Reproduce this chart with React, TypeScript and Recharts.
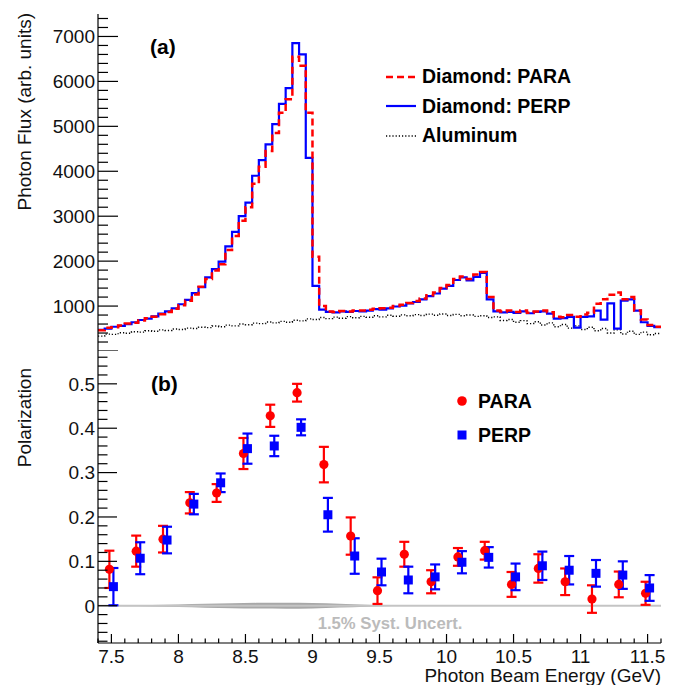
import React from 'react';
import { ComposedChart, Line, Scatter, Area, ErrorBar, XAxis, YAxis, ReferenceLine, Legend, Customized } from 'recharts';

const FONT = '"Liberation Sans", Arial, Helvetica, sans-serif';
const RED = '#ff0000';
const BLUE = '#0000ff';

// top panel: photon flux histograms, 0.05 GeV bins, lower edges 7.40 ... 11.55
const binStart = 7.4;
const binWidth = 0.05;
const fluxPerp = [
  470, 500, 540, 560, 600, 640, 690, 720, 770, 830, 880, 950,
  1040, 1140, 1290, 1420, 1640, 1820, 1990, 2330,
  2650, 3000, 3300, 3900, 4250, 4600, 5050, 5500, 5850, 6850, 6600, 4300,
  1450, 920, 870, 860, 880, 870, 890, 880,
  900, 930, 920, 950, 990, 1010, 1060, 1090, 1150, 1220, 1280, 1390,
  1450, 1580, 1640, 1570, 1650, 1740, 1150, 880,
  860, 870, 850, 880, 840, 870, 880, 830, 720, 730, 760, 520,
  760, 770, 900, 700, 1060, 500, 1120, 1150, 900, 640, 560, 530,
];
const fluxPara = [
  460, 520, 530, 570, 610, 630, 680, 730, 760, 820, 870, 940,
  1020, 1120, 1260, 1430, 1600, 1790, 1930, 2250,
  2560, 2900, 3200, 3720, 4100, 4450, 4850, 5300, 5600, 6550, 6350, 5300,
  2100, 1000, 880, 870, 890, 880, 900, 900,
  920, 940, 950, 960, 1000, 1030, 1070, 1110, 1170, 1240, 1300, 1400,
  1470, 1600, 1660, 1600, 1700, 1760, 1200, 900,
  880, 900, 870, 900, 850, 880, 900, 860, 760, 750, 800, 760,
  810, 850, 1050, 1150, 1250, 1300, 1150, 1200, 900, 700, 580, 540,
];
const fluxAl = [
  330, 375, 370, 405, 395, 430, 420, 450, 440, 470, 455, 490,
  480, 510, 500, 530, 520, 555, 540, 575,
  560, 600, 585, 620, 610, 645, 625, 660, 640, 685, 670, 715,
  700, 745, 720, 755, 730, 765, 740, 770,
  750, 785, 760, 795, 775, 805, 785, 810, 790, 820, 795, 825,
  790, 815, 785, 800, 770, 785, 745, 760,
  680, 700, 640, 675, 610, 650, 580, 625, 540, 590, 510, 560,
  480, 530, 450, 500, 400, 470, 380, 440, 370, 420, 360, 390,
];

// bottom panel: polarization per 0.2 GeV point
const energies = [7.5, 7.7, 7.9, 8.1, 8.3, 8.5, 8.7, 8.9, 9.1, 9.3, 9.5, 9.7, 9.9, 10.1, 10.3, 10.5, 10.7, 10.9, 11.1, 11.3, 11.5];
const paraPol = [0.082, 0.123, 0.150, 0.232, 0.254, 0.343, 0.428, 0.480, 0.318, 0.157, 0.034, 0.116, 0.054, 0.110, 0.124, 0.048, 0.084, 0.054, 0.015, 0.048, 0.028];
const paraErr = [0.042, 0.035, 0.030, 0.024, 0.020, 0.035, 0.025, 0.020, 0.040, 0.042, 0.030, 0.028, 0.026, 0.020, 0.020, 0.028, 0.032, 0.030, 0.031, 0.029, 0.026];
const perpPol = [0.043, 0.107, 0.148, 0.229, 0.277, 0.354, 0.360, 0.402, 0.205, 0.112, 0.076, 0.058, 0.065, 0.098, 0.109, 0.065, 0.090, 0.080, 0.073, 0.069, 0.040];
const perpErr = [0.042, 0.036, 0.030, 0.023, 0.021, 0.034, 0.023, 0.018, 0.038, 0.040, 0.030, 0.030, 0.028, 0.025, 0.023, 0.030, 0.032, 0.032, 0.030, 0.031, 0.029];

// systematic band (half width) around zero
const bandE = [7.4, 7.6, 7.8, 8.0, 8.2, 8.4, 8.6, 8.8, 9.0, 9.2, 9.4, 9.6, 11.6];
const bandHalf = [0.0008, 0.0012, 0.0018, 0.003, 0.0044, 0.0056, 0.0065, 0.0068, 0.006, 0.0042, 0.0022, 0.0009, 0.0008];

// tick labels
const fluxLabels = [1000, 2000, 3000, 4000, 5000, 6000, 7000];
const polLabels = [0, 0.1, 0.2, 0.3, 0.4, 0.5];
const energyLabels = [7.5, 8, 8.5, 9, 9.5, 10, 10.5, 11, 11.5];

const fluxLegend = ['Diamond: PARA', 'Diamond: PERP', 'Aluminum'];
const polLegend = ['PARA', 'PERP'];

const steps = (from: number, to: number, step: number) => {
  const n = Math.round((to - from) / step);
  return Array.from({ length: n + 1 }, (_, k) => Math.round((from + k * step) * 1e4) / 1e4);
};
const energyTicks = steps(7.4, 11.6, 0.1);
const fluxTicks = steps(0, 7400, 200);
const polTicks = steps(-0.08, 0.56, 0.02);

const histData = fluxPerp.map((v, i) => ({
  x: Math.round((binStart + i * binWidth) * 100) / 100,
  perp: v,
  para: fluxPara[i],
  al: fluxAl[i],
}));
histData.push({ ...histData[histData.length - 1], x: 11.6 });

const paraData = energies.map((e, i) => ({ x: e - 0.015, y: paraPol[i], err: paraErr[i] }));
const perpData = energies.map((e, i) => ({ x: e + 0.015, y: perpPol[i], err: perpErr[i] }));
const bandData = bandE.map((e, i) => ({ x: e, band: [-bandHalf[i], bandHalf[i]] }));

type Side = 'left' | 'right' | 'top' | 'bottom';
const near = (a: number, b: number) => Math.abs(a - b) < 1e-6;
const onGrid = (v: number, step: number) => near(v / step, Math.round(v / step));

const makeTick = (side: Side, step: number, majorLen: number, minorLen: number, labels: number[] = []) =>
  (props: any) => {
    const { x, y, payload } = props;
    const v = Number(payload.value);
    const len = onGrid(v, step) ? majorLen : minorLen;
    const dx = side === 'left' ? len : side === 'right' ? -len : 0;
    const dy = side === 'top' ? len : side === 'bottom' ? -len : 0;
    const show = labels.some((l) => near(l, v));
    return (
      <g>
        <line x1={x} y1={y} x2={x + dx} y2={y + dy} stroke="#000" strokeWidth={1.2} />
        {show && side === 'left' && (
          <text x={x - 3} y={y} dy="0.36em" textAnchor="end" fontSize={19} fontFamily={FONT} fill="#111">{String(v)}</text>
        )}
        {show && side === 'bottom' && (
          <text x={x} y={y + 20} textAnchor="middle" fontSize={19} fontFamily={FONT} fill="#111">{String(v)}</text>
        )}
      </g>
    );
  };

const axisLine = { stroke: '#000', strokeWidth: 1.2 };

const FluxNotes = () => (
  <g fontFamily={FONT}>
    <text x={150} y={54} fontSize={21} fontWeight="bold" fill="#000">(a)</text>
    <text transform="translate(31,13) rotate(-90)" textAnchor="end" fontSize={19} fill="#111">Photon Flux (arb. units)</text>
  </g>
);

const PolNotes = () => (
  <g fontFamily={FONT}>
    <text x={151} y={40} fontSize={21} fontWeight="bold" fill="#000">(b)</text>
    <text x={390} y={278} textAnchor="middle" fontSize={16.7} fontWeight="bold" fill="#bbbbbb">1.5% Syst. Uncert.</text>
    <text transform="translate(31,17) rotate(-90)" textAnchor="end" fontSize={19} fill="#111">Polarization</text>
    <text x={661} y={331} textAnchor="end" fontSize={19} fill="#111">Photon Beam Energy (GeV)</text>
  </g>
);

const FluxLegend = () => (
  <div style={{ fontFamily: FONT, fontWeight: 'bold', fontSize: 19.5, color: '#000' }}>
    {fluxLegend.map((name, i) => (
      <div key={name} style={{ display: 'flex', alignItems: 'center', height: 29.5 }}>
        <svg width={30} height={10}>
          {i === 0 && <line x1={0} y1={5} x2={30} y2={5} stroke={RED} strokeWidth={2.5} strokeDasharray="7 4" />}
          {i === 1 && <line x1={0} y1={5} x2={30} y2={5} stroke={BLUE} strokeWidth={2.2} />}
          {i === 2 && <line x1={0} y1={5} x2={30} y2={5} stroke="#000" strokeWidth={1.4} strokeDasharray="1.2 2" />}
        </svg>
        <span style={{ marginLeft: 6 }}>{name}</span>
      </div>
    ))}
  </div>
);

const PolLegend = () => (
  <div style={{ fontFamily: FONT, fontWeight: 'bold', fontSize: 19.5, color: '#000' }}>
    {polLegend.map((name, i) => (
      <div key={name} style={{ display: 'flex', alignItems: 'center', height: 34 }}>
        <svg width={14} height={14}>
          {i === 0 ? <circle cx={7} cy={7} r={4.8} fill={RED} /> : <rect x={2.5} y={2.5} width={9} height={9} fill={BLUE} />}
        </svg>
        <span style={{ marginLeft: 9 }}>{name}</span>
      </div>
    ))}
  </div>
);

const Circle = (props: any) => <circle cx={props.cx} cy={props.cy} r={4.6} fill={RED} />;
const Square = (props: any) => <rect x={props.cx - 4.5} y={props.cy - 4.5} width={9} height={9} fill={BLUE} />;

export default function App() {
  return (
    <div style={{ position: 'absolute', left: 0, top: 0, width: 673, height: 685, background: '#fff', fontFamily: FONT }}>
      <div style={{ position: 'absolute', left: 0, top: 0 }}>
        <ComposedChart width={673} height={351} data={histData} margin={{ top: 14, right: 12, bottom: 0, left: 0 }}>
          <XAxis dataKey="x" type="number" domain={[7.4, 11.6]} ticks={energyTicks} interval={0} height={0}
            tickSize={0} tickMargin={0} tickLine={false} axisLine={axisLine} tick={makeTick('bottom', 0.5, 8, 4)} allowDataOverflow />
          <XAxis xAxisId="top" orientation="top" type="number" domain={[7.4, 11.6]} ticks={energyTicks} interval={0} height={0}
            tickSize={0} tickMargin={0} tickLine={false} axisLine={axisLine} tick={makeTick('top', 0.5, 7, 4)} allowDataOverflow />
          <YAxis type="number" domain={[0, 7500]} ticks={fluxTicks} interval={0} width={98}
            tickSize={0} tickMargin={0} tickLine={false} axisLine={axisLine} tick={makeTick('left', 1000, 20, 10, fluxLabels)} allowDataOverflow />
          <YAxis yAxisId="right" orientation="right" type="number" domain={[0, 7500]} ticks={fluxTicks} interval={0} width={0}
            tickSize={0} tickMargin={0} tickLine={false} axisLine={axisLine} tick={makeTick('right', 1000, 18, 9)} allowDataOverflow />
          <Line type="stepAfter" dataKey="al" stroke="#000" strokeWidth={1.4} strokeDasharray="1.2 2" dot={false} activeDot={false} isAnimationActive={false} />
          <Line type="stepAfter" dataKey="perp" stroke={BLUE} strokeWidth={2.2} dot={false} activeDot={false} isAnimationActive={false} />
          <Line type="stepAfter" dataKey="para" stroke={RED} strokeWidth={2.5} strokeDasharray="7 4" dot={false} activeDot={false} isAnimationActive={false} />
          <Legend layout="vertical" align="center" verticalAlign="middle" content={<FluxLegend />}
            wrapperStyle={{ top: 62, left: 386, width: 240 }} />
          <Customized component={FluxNotes} />
        </ComposedChart>
      </div>
      <div style={{ position: 'absolute', left: 0, top: 351 }}>
        <ComposedChart width={673} height={334} margin={{ top: 0, right: 12, bottom: 0, left: 0 }}>
          <XAxis dataKey="x" type="number" domain={[7.4, 11.6]} ticks={energyTicks} interval={0} height={42}
            tickSize={0} tickMargin={0} tickLine={false} axisLine={axisLine} tick={makeTick('bottom', 0.5, 9, 4.5, energyLabels)} allowDataOverflow />
          <XAxis xAxisId="top" orientation="top" type="number" domain={[7.4, 11.6]} ticks={energyTicks} interval={0} height={0}
            tickSize={0} tickMargin={0} tickLine={false} axisLine={axisLine} tick={makeTick('top', 0.5, 8, 4)} allowDataOverflow />
          <YAxis type="number" domain={[-0.084, 0.574]} ticks={polTicks} interval={0} width={98}
            tickSize={0} tickMargin={0} tickLine={false} axisLine={axisLine} tick={makeTick('left', 0.1, 19, 9.5, polLabels)} allowDataOverflow />
          <YAxis yAxisId="right" orientation="right" type="number" domain={[-0.084, 0.574]} ticks={polTicks} interval={0} width={0}
            tickSize={0} tickMargin={0} tickLine={false} axisLine={axisLine} tick={makeTick('right', 0.1, 18, 9)} allowDataOverflow />
          <ReferenceLine y={0} stroke="#c4c4c4" strokeWidth={2} />
          <Area data={bandData} dataKey="band" type="monotone" stroke="none" fill="#a8a8a8" fillOpacity={1} isAnimationActive={false} />
          <Scatter data={paraData} dataKey="y" shape={Circle} isAnimationActive={false}>
            <ErrorBar dataKey="err" direction="y" width={5} stroke={RED} strokeWidth={2.2} />
          </Scatter>
          <Scatter data={perpData} dataKey="y" shape={Square} isAnimationActive={false}>
            <ErrorBar dataKey="err" direction="y" width={5} stroke={BLUE} strokeWidth={2.2} />
          </Scatter>
          <Legend layout="vertical" align="center" verticalAlign="middle" content={<PolLegend />}
            wrapperStyle={{ top: 33, left: 455, width: 120 }} />
          <Customized component={PolNotes} />
        </ComposedChart>
      </div>
    </div>
  );
}
